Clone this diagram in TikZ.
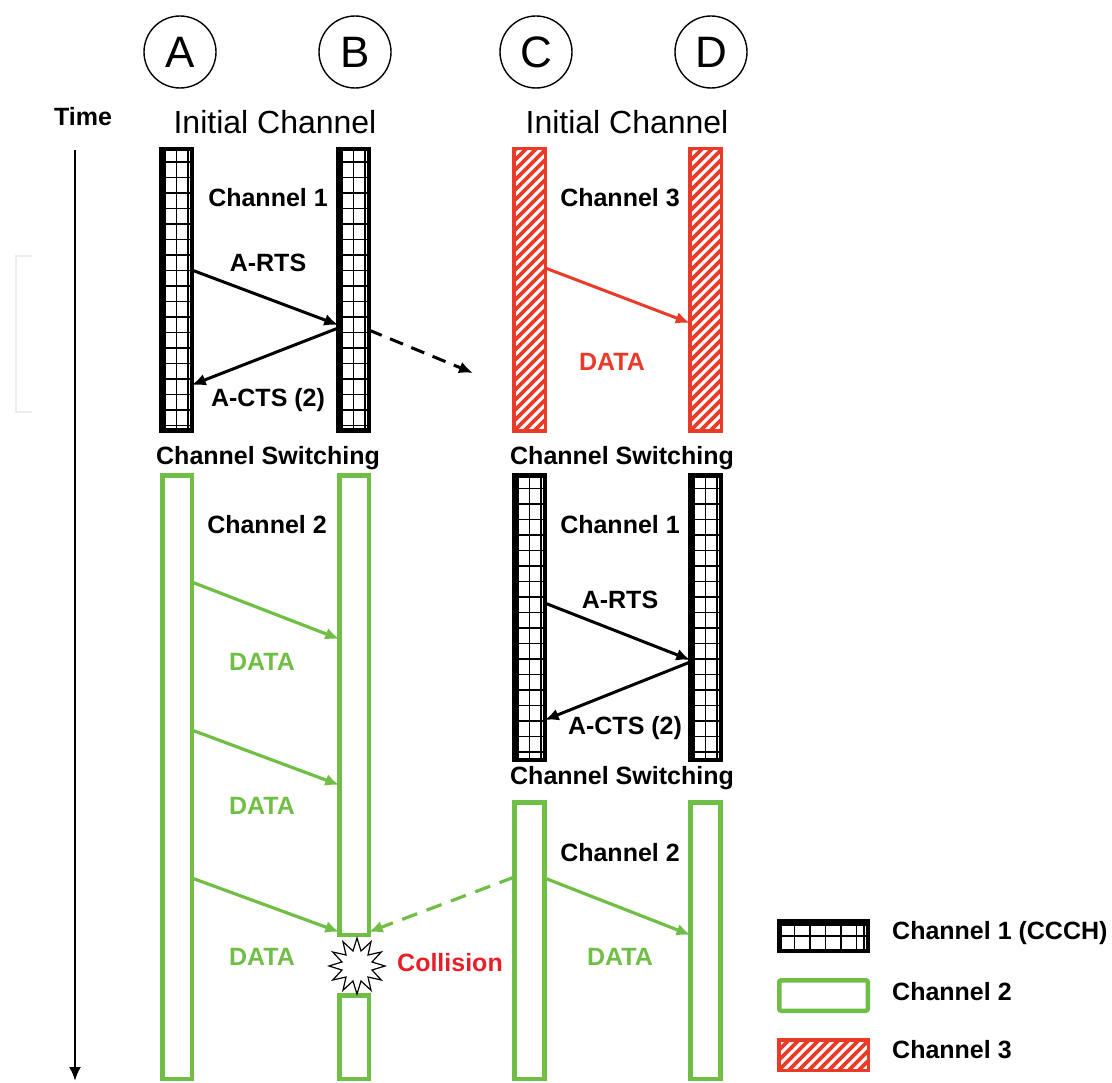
\documentclass[tikz,border=0pt]{standalone}
\usepackage{fontspec}
\setmainfont{Liberation Sans}
\usetikzlibrary{arrows.meta,shapes.geometric,calc}
\definecolor{chgreen}{RGB}{112,190,70}
\definecolor{chred}{RGB}{234,58,40}
\definecolor{colred}{RGB}{232,30,40}
\begin{document}
\begin{tikzpicture}[x=1pt,y=-1pt,
  lbl/.style={font=\fontsize{25}{29}\selectfont\bfseries, inner sep=0},
  hdr/.style={font=\fontsize{32}{36}\selectfont, inner sep=0},
  circ/.style={circle, draw, line width=1.4pt, minimum size=72pt, inner sep=0, font=\fontsize{44}{50}\selectfont},
  bar/.style={rectangle, inner sep=0, outer sep=0, fill=white},
  gridbar/.style={bar, draw=black, line width=4.5pt, minimum width=30.5pt, path picture={
    \draw[line width=1.5pt] ([xshift=3.9pt]path picture bounding box.north west) -- ([xshift=3.9pt]path picture bounding box.south west);
    \draw[line width=1.5pt] ([xshift=-3.9pt]path picture bounding box.north east) -- ([xshift=-3.9pt]path picture bounding box.south east);
    \draw[line width=1.5pt] (path picture bounding box.north) -- (path picture bounding box.south);
    \foreach \k in {13,28.5,...,700} \draw[line width=1.5pt] ([yshift=-\k pt]path picture bounding box.north west) -- ([yshift=-\k pt]path picture bounding box.north east);
  }},
  legendgrid/.style={bar, draw=black, line width=4.5pt, path picture={
    \draw[line width=1.5pt] ([yshift=-3.9pt]path picture bounding box.north west) -- ([yshift=-3.9pt]path picture bounding box.north east);
    \draw[line width=1.5pt] (path picture bounding box.west) -- (path picture bounding box.east);
    \foreach \k in {15,30.5,...,80} \draw[line width=1.5pt] ([xshift=\k pt]path picture bounding box.north west) -- ([xshift=\k pt]path picture bounding box.south west);
    \draw[line width=1.5pt] ([xshift=-3.9pt]path picture bounding box.north east) -- ([xshift=-3.9pt]path picture bounding box.south east);
  }},
  hatchbar/.style={bar, draw=chred, line width=3.5pt, path picture={
    \foreach \k in {-200,-190,...,330} \draw[chred, line width=3.8pt] ([yshift=\k pt]path picture bounding box.south west) -- ++(240pt,240pt);
  }},
  greenbar/.style={bar, draw=chgreen, line width=4.5pt},
  msg/.style={line width=3pt, -{Latex[length=14pt,width=12pt]}},
  gmsg/.style={line width=3.2pt, draw=chgreen, -{Latex[length=14pt,width=12pt]}}
]
\useasboundingbox (0,0) rectangle (1112,1083);

% faint bracket
\draw[black!7, line width=1.5pt] (32,256) -- (16,256) -- (16,412) -- (32,412);

% circles
\node[circ] (cA) at (180,52) {A};
\node[circ] (cB) at (355,52) {B};
\node[circ] (cC) at (536,52) {C};
\node[circ] (cD) at (711,52) {D};

% headers
\node[lbl] (time) at (83,117) {Time};
\node[hdr] (ic1) at (275,122) {Initial Channel};
\node[hdr] (ic2) at (627,122) {Initial Channel};

% time axis
\coordinate (t0) at (75,150);
\coordinate (t1) at (75,1081);
\draw[line width=2.4pt, -{Latex[length=14pt,width=12pt]}] (t0) -- (t1);

% top bars
\node[gridbar, minimum height=281.5pt] (A1) at (176.5,290) {};
\node[gridbar, minimum height=281.5pt] (B1) at (353.5,290) {};
\node[hatchbar, minimum width=31.5pt, minimum height=282.5pt] (C1) at (529.5,290) {};
\node[hatchbar, minimum width=31.5pt, minimum height=282.5pt] (D1) at (705.5,290) {};

% middle/bottom bars
\node[greenbar, minimum width=29.5pt, minimum height=603.5pt] (A2) at (177,777) {};
\node[greenbar, minimum width=29.5pt, minimum height=459.5pt] (B2) at (354,705) {};
\node[greenbar, minimum width=29.5pt, minimum height=83.5pt] (B3) at (354,1037) {};
\node[gridbar, minimum height=284.5pt] (C2) at (529.5,617.5) {};
\node[gridbar, minimum height=284.5pt] (D2) at (705.5,617.5) {};
\node[greenbar, minimum width=30pt, minimum height=276.5pt] (C3) at (529.5,940.5) {};
\node[greenbar, minimum width=30pt, minimum height=276.5pt] (D3) at (705.5,940.5) {};

% labels
\node[lbl] (ch1a) at (268,198) {Channel 1};
\node[lbl] (rtsa) at (268,263) {A-RTS};
\node[lbl] (ctsa) at (268,400) {A-CTS (2)};
\node[lbl] (ch3) at (620,198) {Channel 3};
\node[lbl, text=chred] (datar) at (612,362) {DATA};
\node[lbl] (sw1) at (268,458) {Channel Switching};
\node[lbl] (sw2) at (622,458) {Channel Switching};
\node[lbl] (sw3) at (622,778) {Channel Switching};
\node[lbl] (ch2a) at (267,525) {Channel 2};
\node[lbl] (ch1b) at (620,525) {Channel 1};
\node[lbl] (rtsb) at (620,600) {A-RTS};
\node[lbl] (ctsb) at (625,728) {A-CTS (2)};
\node[lbl] (ch2b) at (620,853) {Channel 2};
\node[lbl, text=chgreen] (dg1) at (262,662) {DATA};
\node[lbl, text=chgreen] (dg2) at (262,806) {DATA};
\node[lbl, text=chgreen] (dg3) at (262,957) {DATA};
\node[lbl, text=chgreen] (dg4) at (620,957) {DATA};

% messages
\draw[msg] (A1.east |- 0,270) -- (B1.west |- 0,325);
\draw[msg] (B1.west |- 0,328) -- (A1.east |- 0,385);
\coordinate (dashEnd) at (473,373);
\draw[msg, dash pattern=on 14pt off 9pt] (B1.east |- 0,330) -- (dashEnd);
\draw[msg, draw=chred, fill=chred] (C1.east |- 0,268) -- (D1.west |- 0,323);
\draw[msg] (C2.east |- 0,603) -- (D2.west |- 0,660);
\draw[msg] (D2.west |- 0,662) -- (C2.east |- 0,720);

\draw[gmsg] (A2.east |- 0,582) -- (B2.west |- 0,639);
\draw[gmsg] (A2.east |- 0,730) -- (B2.west |- 0,785);
\draw[gmsg] (A2.east |- 0,878) -- (B2.west |- 0,932);
\draw[gmsg, dash pattern=on 16pt off 10pt] (C3.west |- 0,877) -- (B2.east |- 0,932);
\draw[gmsg] (C3.east |- 0,878) -- (D3.west |- 0,935);

% collision
\node[star, star points=12, star point ratio=1.8, draw, fill=white, line width=1.2pt, minimum size=56pt, inner sep=0] (coll) at (357,966) {};
\node[lbl, text=colred, anchor=west] (colltxt) at (397,963) {Collision};

% legend
\node[legendgrid, minimum width=88.5pt, minimum height=29.5pt] (L1) at (823.5,936) {};
\node[greenbar, rounded corners=2pt, minimum width=88.5pt, minimum height=30.5pt] (L2) at (823.5,995.5) {};
\node[hatchbar, minimum width=89.5pt, minimum height=30.5pt] (L3) at (823.5,1055) {};
\node[lbl, anchor=west] (lt1) at (892,933) {Channel 1 (CCCH)};
\node[lbl, anchor=west] (lt2) at (892,992) {Channel 2};
\node[lbl, anchor=west] (lt3) at (892,1050) {Channel 3};
\end{tikzpicture}
\end{document}
